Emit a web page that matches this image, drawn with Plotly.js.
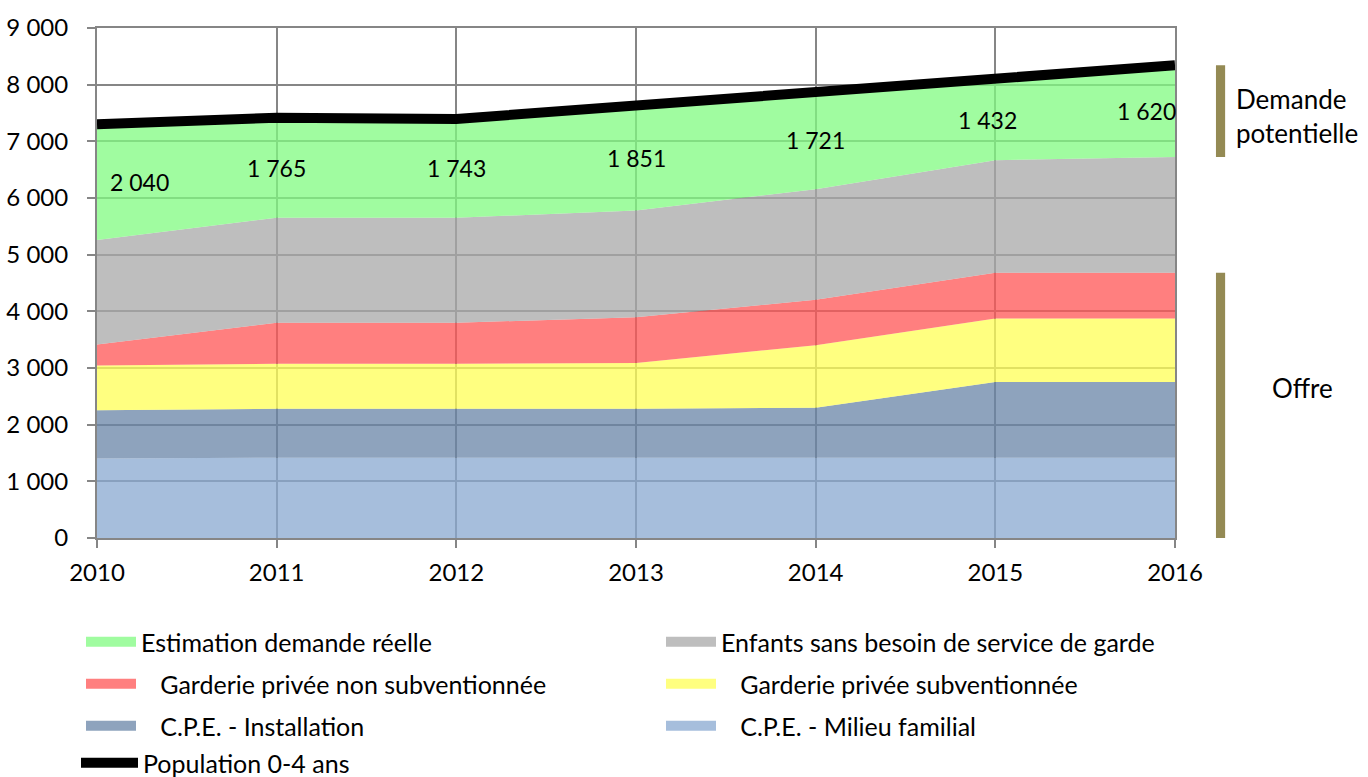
<!DOCTYPE html>
<html><head><meta charset="utf-8">
<script src="https://cdn.plot.ly/plotly-3.0.1.min.js"></script>
<style>html,body{margin:0;padding:0;background:#fff}#chart{width:1368px;height:777px}</style>
</head><body><div id="chart"></div>
<script>
const years = [2010, 2011, 2012, 2013, 2014, 2015, 2016];
const cpeMilieuFamilial = [1405, 1418, 1418, 1418, 1418, 1418, 1418];
const cpeInstallation = [851, 863, 863, 863, 882, 1336, 1336];
const garderieSubv = [787, 794, 794, 807, 1103, 1121, 1121];
const garderieNonSubv = [372, 725, 725, 806, 800, 807, 807];
const enfantsSansBesoin = [1846, 1852, 1852, 1884, 1953, 1985, 2041];
const demandeReelle = [2040, 1765, 1743, 1851, 1721, 1432, 1620];
const population = [7301, 7417, 7395, 7629, 7877, 8099, 8343];
const yTicks = [0, 1000, 2000, 3000, 4000, 5000, 6000, 7000, 8000, 9000];

const FONT = 'Lato, "Noto Sans", sans-serif';
const fmt = v => String(v).replace(/\B(?=(\d{3})+(?!\d))/g, '\u00a0');
const ind = '\u00a0\u00a0\u00a0';

// stacked areas (bottom to top)
const series = [
  {y: cpeMilieuFamilial, name: ind + 'C.P.E. - Milieu familial', fill: 'rgba(136,168,208,0.75)', sw: '#A6BEDC', legend: 'legend6'},
  {y: cpeInstallation, name: ind + 'C.P.E. - Installation', fill: 'rgba(104,132,167,0.75)', sw: '#8EA3BD', legend: 'legend5'},
  {y: garderieSubv, name: ind + 'Garderie privée subventionnée', fill: 'rgba(255,255,86,0.75)', sw: '#FFFF80', legend: 'legend4'},
  {y: garderieNonSubv, name: ind + 'Garderie privée non subventionnée', fill: 'rgba(255,84,84,0.75)', sw: '#FF7F7F', legend: 'legend3'},
  {y: enfantsSansBesoin, name: 'Enfants sans besoin de service de garde', fill: 'rgba(168,168,168,0.75)', sw: '#BEBEBE', legend: 'legend2'},
  {y: demandeReelle, name: 'Estimation demande réelle', fill: 'rgba(128,251,128,0.75)', sw: '#A0FCA0', legend: 'legend'}
];
const traces = [];
series.forEach(s => {
  traces.push({x: years, y: s.y, type: 'scatter', mode: 'none', stackgroup: 'one', fillcolor: s.fill,
    name: s.name, showlegend: false, hoverinfo: 'skip'});
});
series.forEach(s => {
  traces.push({x: [years[0]], y: [null], type: 'scatter', mode: 'lines', name: s.name,
    line: {color: s.sw, width: 17}, legend: s.legend, showlegend: true, hoverinfo: 'skip'});
});
traces.push({
  x: years, y: population, type: 'scatter', mode: 'lines', name: 'Population 0-4 ans',
  line: {color: '#000', width: 10}, legend: 'legend7', hoverinfo: 'skip'
});

const base = years.map((_, i) => cpeMilieuFamilial[i] + cpeInstallation[i] + garderieSubv[i] + garderieNonSubv[i] + enfantsSansBesoin[i]);
const top2016 = population[population.length - 1];
const demBase2016 = base[base.length - 1];
const offreTop2016 = demBase2016 - enfantsSansBesoin[enfantsSansBesoin.length - 1];

const labelShift = [42, 0, 0, 0, 0, -8, -29];
const annotations = years.map((yr, i) => ({
  x: yr, y: base[i] + demandeReelle[i] / 2, xref: 'x', yref: 'y', text: fmt(demandeReelle[i]),
  showarrow: false, xanchor: 'center', yanchor: 'middle', xshift: labelShift[i],
  font: {family: FONT, size: 23, color: '#000'}
}));
annotations.push(
  {xref: 'paper', yref: 'paper', x: 1.0548, y: 0.827, xanchor: 'left', yanchor: 'middle', align: 'left',
    text: 'Demande<br>potentielle', showarrow: false, font: {family: FONT, size: 26, color: '#000'}},
  {xref: 'paper', yref: 'paper', x: 1.1187, y: 0.294, xanchor: 'center', yanchor: 'middle',
    text: 'Offre', showarrow: false, font: {family: FONT, size: 26, color: '#000'}}
);

function leg(xPix, yPix, iw) {
  return {orientation: 'h', xref: 'container', yref: 'container', x: xPix / 1368, y: 1 - yPix / 777,
    xanchor: 'left', yanchor: 'middle', itemwidth: iw || 50,
    font: {family: FONT, size: 25, color: '#000'}, bgcolor: 'rgba(0,0,0,0)'};
}
const axisCommon = {showgrid: true, gridcolor: '#868686', gridwidth: 2, showline: true, linecolor: '#868686',
  linewidth: 2, mirror: true, ticks: 'outside', ticklen: 8, tickcolor: '#868686', tickwidth: 2,
  tickfont: {family: FONT, size: 24, color: '#000'}, zeroline: false, fixedrange: true};

const layout = {
  width: 1368, height: 777, paper_bgcolor: '#fff', plot_bgcolor: '#fff',
  margin: {l: 97, r: 193, t: 28, b: 239}, separators: ', ', hovermode: false,
  font: {family: FONT, size: 22, color: '#000'},
  xaxis: Object.assign({}, axisCommon, {range: [years[0], years[years.length - 1]], tickvals: years,
    ticktext: years.map(String), ticklabelstandoff: 4}),
  yaxis: Object.assign({}, axisCommon, {range: [0, 9000], tickvals: yTicks, ticktext: yTicks.map(fmt),
    ticklabelstandoff: 14}),
  legend: leg(81, 642), legend2: leg(661, 642),
  legend3: leg(81, 684), legend4: leg(661, 684),
  legend5: leg(81, 726), legend6: leg(661, 726),
  legend7: leg(76, 763, 57),
  shapes: [
    {type: 'rect', xref: 'paper', yref: 'y', x0: 1.038, x1: 1.0465, y0: demBase2016, y1: top2016,
      fillcolor: '#948A54', line: {width: 0}},
    {type: 'rect', xref: 'paper', yref: 'y', x0: 1.038, x1: 1.0465, y0: 0, y1: offreTop2016,
      fillcolor: '#948A54', line: {width: 0}}
  ],
  annotations: annotations
};
Plotly.newPlot('chart', traces, layout, {displayModeBar: false, staticPlot: true});
</script></body></html>
